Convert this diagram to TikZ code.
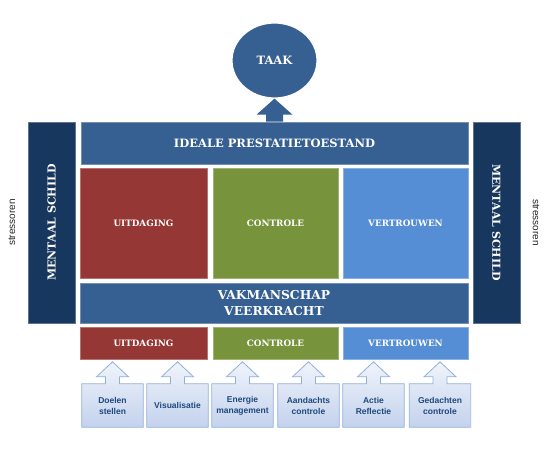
\documentclass[tikz,border=0pt]{standalone}
\usepackage{fontspec}
\setmainfont{DejaVu Serif}
\newfontfamily\slab{DejaVu Serif}
\newfontfamily\sansf{Liberation Sans}
\usetikzlibrary{shapes.geometric,calc,backgrounds}
\definecolor{navy}{HTML}{17375E}
\definecolor{midblue}{HTML}{376092}
\definecolor{cred}{HTML}{953735}
\definecolor{cgreen}{HTML}{77933C}
\definecolor{lblue}{HTML}{558ED5}
\definecolor{ctext}{HTML}{1F497D}
\definecolor{ctop}{HTML}{F0F4FB}
\definecolor{cbot}{HTML}{C3D2ED}
\definecolor{cedge}{HTML}{93AEDB}
\newcommand\callout[3]{%
  \node[cbox] (#1) at (#2,405.5) {#3};
  \begin{scope}[on background layer]
    \shade[top color=ctop, bottom color=cbot, draw=cedge, line width=0.8pt, line join=miter]
      (#1.south west) -- (#1.north west) -- ($(#1.north)+(-7,0)$) -- ($(#1.north)+(-7,-7)$)
      -- ($(#1.north)+(-16,-7)$) -- ($(#1.north)+(0,-22)$) -- ($(#1.north)+(16,-7)$)
      -- ($(#1.north)+(7,-7)$) -- ($(#1.north)+(7,0)$) -- (#1.north east) -- (#1.south east) -- cycle;
  \end{scope}}
\begin{document}
\begin{tikzpicture}[x=1pt,y=-1pt,
  block/.style={rectangle, inner sep=0pt, text=white, align=center,
    draw=#1!70!white, line width=0.6pt, fill=#1},
  bigfont/.style={font=\slab\bfseries\fontsize{11.5}{14}\selectfont},
  shieldfont/.style={font=\slab\bfseries\fontsize{11}{13}\selectfont},
  boldfont/.style={font=\slab\bfseries\fontsize{12.3}{16}\selectfont},
  midfont/.style={font=\slab\bfseries\fontsize{8.8}{11}\selectfont},
  cbox/.style={rectangle, inner sep=0pt, minimum width=61pt, minimum height=43pt,
    align=center, text=ctext, font=\sansf\bfseries\fontsize{8.5}{11}\selectfont},
  strfont/.style={font=\sansf\fontsize{10}{12}\selectfont, text=black!85}]
\useasboundingbox (0,0) rectangle (550,457);

% TAAK
\node[ellipse, fill=midblue, draw=white, line width=1.2pt, minimum width=85pt, minimum height=75pt,
  text=white, font=\slab\bfseries\fontsize{11.5}{13}\selectfont] (taak) at (274.5,60.5) {TAAK};

% top bar
\node[block=midblue, bigfont, minimum width=387pt, minimum height=42pt] (ideale) at (274.5,143) {IDEALE PRESTATIETOESTAND};

% big arrow from ideale to taak
\fill[midblue] ($(ideale.north)+(-8.5,0)$) -- ($(ideale.north)+(-8.5,-7)$) -- ($(ideale.north)+(-18,-7)$)
  -- (taak.south) -- ($(ideale.north)+(18,-7)$) -- ($(ideale.north)+(8.5,-7)$) -- ($(ideale.north)+(8.5,0)$) -- cycle;

% shields
\node[block=navy, shieldfont, rotate=90, minimum width=201pt, minimum height=47pt] (shieldL) at (51.5,222.5) {MENTAAL SCHILD};
\node[block=navy, shieldfont, rotate=-90, minimum width=201pt, minimum height=47pt] (shieldR) at (496.5,222.5) {MENTAAL SCHILD};
\node[strfont, rotate=90] (strL) at (12,222.5) {stressoren};
\node[strfont, rotate=-90] (strR) at (536,222.5) {stressoren};

% big blocks
\node[block=cred, midfont, minimum width=127pt, minimum height=110pt] (uitB) at (143.5,223) {UITDAGING};
\node[block=cgreen, midfont, minimum width=125pt, minimum height=110pt] (conB) at (275.5,223) {CONTROLE};
\node[block=lblue, midfont, minimum width=125pt, minimum height=110pt] (verB) at (405.5,223) {VERTROUWEN};

% vakmanschap
\node[block=midblue, boldfont, minimum width=388pt, minimum height=40pt] (vak) at (274,303) {VAKMANSCHAP\\VEERKRACHT};

% small blocks
\node[block=cred, midfont, minimum width=127pt, minimum height=32pt] (uitS) at (143.5,343) {UITDAGING};
\node[block=cgreen, midfont, minimum width=125pt, minimum height=32pt] (conS) at (275.5,343) {CONTROLE};
\node[block=lblue, midfont, minimum width=125pt, minimum height=32pt] (verS) at (405.5,343) {VERTROUWEN};

% callouts
\callout{c1}{112.5}{Doelen\\stellen}
\callout{c2}{177.5}{Visualisatie}
\callout{c3}{242.5}{Energie\\management}
\callout{c4}{308.5}{Aandachts\\controle}
\callout{c5}{373.5}{Actie\\Reflectie}
\callout{c6}{440}{Gedachten\\controle}
\end{tikzpicture}
\end{document}
